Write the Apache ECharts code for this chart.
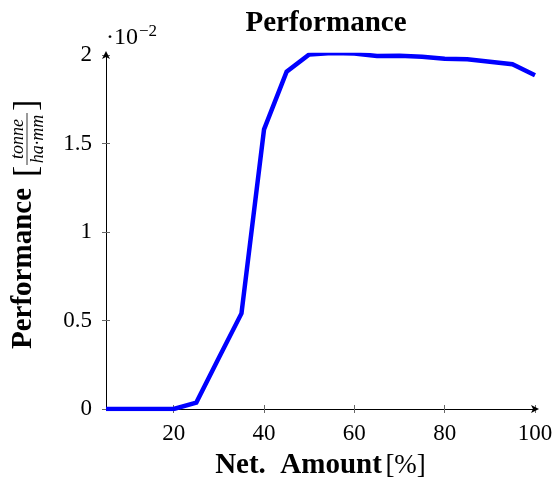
<!DOCTYPE html>
<html>
<head>
<meta charset="utf-8">
<script src="https://cdn.jsdelivr.net/npm/echarts@6/dist/echarts.min.js"></script>
<style>html,body{margin:0;padding:0;background:#fff;}#c{width:558px;height:481px;}</style>
</head>
<body>
<div id="c"></div>
<script>
const xValues = [5,10,15,20,25,30,35,40,45,50,55,60,65,70,75,80,85,90,95,100];
const perfValues = [0,0,0,0,0.036,0.29,0.54,1.58,1.906,2.003,2.011,2.008,1.994,1.996,1.99,1.979,1.976,1.962,1.948,1.886];
const xTicks = [20,40,60,80,100];
const yTicks = [0,0.5,1,1.5,2];
const titleText = 'Performance';
const xName = 'Net.  Amount';
const xUnit = '[%]';
const yName = 'Performance';
const yNum = 'tonne';
const yDen = 'ha·mm';
const scaleBase = '·10';
const scaleExp = '−2';

const serif = '"Liberation Serif", "DejaVu Serif", serif';
const chart = echarts.init(document.getElementById('c'), null, {renderer: 'canvas'});
const tickColor = '#666';

const gl = 106, gr = 23, gt = 55, gb = 72;

chart.setOption({
  animation: false,
  title: {
    text: titleText, left: 321, top: 4, textAlign: 'center',
    textStyle: {fontFamily: serif, fontWeight: 'bold', fontSize: 29, color: '#000'}
  },
  grid: {left: gl, right: gr, top: gt, bottom: gb, containLabel: false, outerBoundsMode: 'none'},
  xAxis: [{
    type: 'value', min: 5, max: 100,
    axisLine: {show: true, lineStyle: {color: '#000', width: 1}, symbol: ['none', 'arrow'], symbolSize: [6, 8], symbolOffset: [0, 4]},
    axisTick: {show: true, inside: false, length: 4, lineStyle: {color: tickColor}, customValues: xTicks},
    axisLabel: {customValues: xTicks, fontFamily: serif, fontSize: 23, color: '#000', margin: 13},
    splitLine: {show: false},
    name: '{b|' + xName + '}{s| }{n|' + xUnit + '}',
    nameLocation: 'middle', nameGap: 42,
    nameTextStyle: {
      rich: {
        b: {fontFamily: serif, fontWeight: 'bold', fontSize: 29, color: '#000'},
        s: {fontFamily: serif, fontSize: 14, color: '#000'},
        n: {fontFamily: serif, fontSize: 27, color: '#000'}
      }
    }
  }, {
    type: 'value', min: 5, max: 100, position: 'bottom',
    axisLine: {show: false},
    axisTick: {show: true, inside: true, length: 4, lineStyle: {color: tickColor}, customValues: xTicks},
    axisLabel: {show: false, customValues: xTicks},
    splitLine: {show: false}
  }],
  yAxis: [{
    type: 'value', min: 0, max: 2, interval: 0.5,
    axisLine: {show: true, lineStyle: {color: '#000', width: 1}, symbol: ['none', 'arrow'], symbolSize: [6, 8], symbolOffset: [0, 4]},
    axisTick: {show: true, inside: false, length: 4, lineStyle: {color: tickColor}},
    axisLabel: {fontFamily: serif, fontSize: 23, color: '#000', margin: 14, formatter: v => String(v)},
    splitLine: {show: false}
  }, {
    type: 'value', min: 0, max: 2, interval: 0.5, position: 'left',
    axisLine: {show: false},
    axisTick: {show: true, inside: true, length: 4, lineStyle: {color: tickColor}},
    axisLabel: {show: false},
    splitLine: {show: false}
  }],
  series: [{
    type: 'line',
    data: xValues.map((x, i) => [x, perfValues[i]]),
    showSymbol: false, symbol: 'none',
    lineStyle: {color: '#0000ff', width: 4.5, join: 'miter'},
    itemStyle: {color: '#0000ff'},
    z: 5
  }],
  graphic: [
    {
      type: 'text', left: 106, top: 23,
      style: {
        text: '{a|' + scaleBase + '}{e|' + scaleExp + '}',
        rich: {
          a: {fontFamily: serif, fontSize: 24, color: '#000', verticalAlign: 'bottom'},
          e: {fontFamily: serif, fontSize: 17, color: '#000', verticalAlign: 'top', padding: [0, 0, 10, 1]}
        }
      }
    },
    {
      type: 'group',
      x: 38, y: 349,
      rotation: Math.PI / 2,
      children: [
        {type: 'text', x: 0, y: 0, style: {text: yName, fontFamily: serif, fontWeight: 'bold', fontSize: 29, fill: '#000', verticalAlign: 'bottom', align: 'left'}},
        {type: 'text', x: 172, y: 6, style: {text: '[', fontFamily: serif, fontSize: 34, fill: '#000', verticalAlign: 'bottom', align: 'left'}},
        {type: 'text', x: 210, y: -11, style: {text: yNum, fontFamily: serif, fontStyle: 'italic', fontSize: 18, fill: '#000', verticalAlign: 'bottom', align: 'center'}},
        {type: 'line', shape: {x1: 184, y1: -11, x2: 236, y2: -11}, style: {stroke: '#000', lineWidth: 0.8}},
        {type: 'text', x: 210, y: -9, style: {text: yDen, fontFamily: serif, fontStyle: 'italic', fontSize: 18, fill: '#000', verticalAlign: 'top', align: 'center'}},
        {type: 'text', x: 238, y: 6, style: {text: ']', fontFamily: serif, fontSize: 34, fill: '#000', verticalAlign: 'bottom', align: 'left'}}
      ]
    }
  ]
});
</script>
</body>
</html>
